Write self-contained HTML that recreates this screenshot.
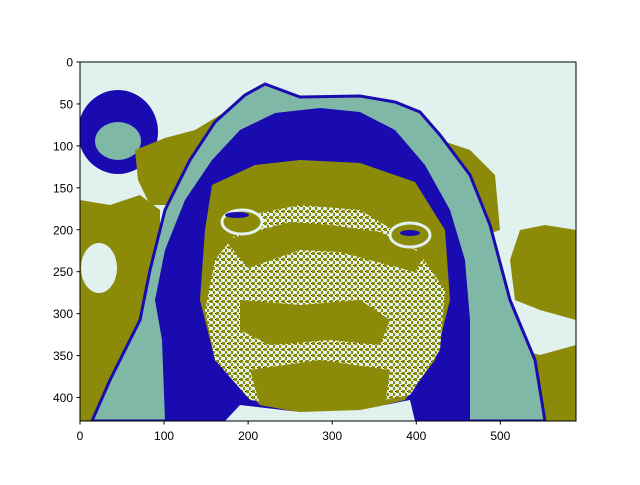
<!DOCTYPE html>
<html><head><meta charset="utf-8"><style>
body{margin:0;background:#fff;font-family:"Liberation Sans",sans-serif}
svg text{font-family:"Liberation Sans",sans-serif;font-size:12px;fill:#000}
</style></head><body>
<svg width="640" height="480" viewBox="0 0 640 480">
<defs>
<pattern id="speck" width="6" height="6" patternUnits="userSpaceOnUse">
<rect width="6" height="6" fill="#e0f0ee"/>
<rect x="0" y="0" width="3" height="3" fill="#8c8b09"/>
<rect x="3" y="3" width="2" height="3" fill="#8c8b09"/>
<rect x="5" y="1" width="1" height="1" fill="#1a0bb0"/>
</pattern>
<clipPath id="ax"><rect x="80" y="62" width="496" height="359"/></clipPath>
</defs>
<g clip-path="url(#ax)">
<rect x="80" y="62" width="496" height="359" fill="#e1f1ee"/>
<path fill="#8c8b09" d="M80,200 L110,205 L140,195 L160,210 L160,300 L130,380 L110,421 L80,421Z"/>
<ellipse cx="99" cy="268" rx="18" ry="25" fill="#e1f1ee"/>
<ellipse cx="118" cy="132" rx="40" ry="42" fill="#1a0bb0"/>
<ellipse cx="118" cy="141" rx="23" ry="19" fill="#80b8a8"/>
<path fill="#8c8b09" d="M135,150 L165,138 L195,130 L225,112 L235,130 L200,165 L185,205 L150,205 L138,180Z"/>
<path fill="#8c8b09" d="M440,140 L470,150 L495,175 L500,230 L470,240 L450,200Z"/>
<path fill="#8c8b09" d="M520,230 L545,225 L576,230 L576,320 L540,310 L515,300 L510,260Z"/>
<path fill="#8c8b09" d="M500,345 L540,355 L576,345 L576,421 L500,421Z"/>
<path fill="#80b8a8" stroke="#1a0bb0" stroke-width="3" d="M92,421 L110,380 L140,320 L150,270 L165,210 L190,160 L215,122 L245,95 L265,84 L300,97 L360,96 L395,102 L420,112 L440,135 L470,175 L490,225 L510,300 L535,360 L545,421Z"/>
<path fill="#1a0bb0" d="M165,421 L162,340 L155,300 L165,250 L185,200 L212,160 L240,130 L275,113 L320,108 L360,112 L395,130 L425,165 L450,210 L465,260 L470,320 L470,421Z"/>
<path fill="#8c8b09" d="M212,185 L255,165 L300,160 L360,163 L415,182 L445,230 L450,300 L435,360 L405,400 L330,418 L260,405 L215,360 L200,300 L205,230Z"/>
<path fill="url(#speck)" d="M215,260 L250,215 L300,205 L360,210 L410,240 L445,290 L440,350 L410,395 L330,410 L250,400 L215,360 L205,310Z"/>
<path fill="#8c8b09" d="M225,240 L290,222 L330,225 L380,232 L425,255 L415,272 L340,252 L300,250 L248,268Z"/>
<path fill="#8c8b09" d="M240,300 L300,305 L360,300 L390,320 L380,345 L330,340 L270,345 L240,330Z"/>
<path fill="#8c8b09" d="M250,370 L320,360 L390,370 L385,405 L320,415 L260,405Z"/>
<path fill="#e1f1ee" d="M225,421 L240,405 L300,412 L360,410 L410,400 L415,421Z"/>
<ellipse cx="242" cy="222" rx="20" ry="12" fill="#8c8b09" stroke="#e1f1ee" stroke-width="3"/>
<ellipse cx="237" cy="215" rx="12" ry="3" fill="#1a0bb0"/>
<ellipse cx="410" cy="235" rx="20" ry="12" fill="#8c8b09" stroke="#e1f1ee" stroke-width="3"/>
<ellipse cx="410" cy="233" rx="10" ry="3" fill="#1a0bb0"/>
</g>
<rect x="80" y="62" width="496" height="359" fill="none" stroke="#000" stroke-width="1"/>
<g id="xt"></g>
<g id="yt"></g>
<script>
const xTicks=[0,100,200,300,400,500];
const yTicks=[0,50,100,150,200,250,300,350,400];
const xs=v=>80+v*496/590, ys=v=>62+v*359/428;
const ns="http://www.w3.org/2000/svg";
const xg=document.getElementById('xt'), yg=document.getElementById('yt');
xTicks.forEach(v=>{
 const l=document.createElementNS(ns,'line');
 
 
 l.setAttribute('x1',xs(v));l.setAttribute('x2',xs(v));l.setAttribute('y1',421);l.setAttribute('y2',424.5);l.setAttribute('stroke','#000');
 xg.appendChild(l);
 const t=document.createElementNS(ns,'text');
 
 
 t.setAttribute('x',xs(v));t.setAttribute('y',440);t.setAttribute('text-anchor','middle');t.textContent=v;
 xg.appendChild(t);
});
yTicks.forEach(v=>{
 const l=document.createElementNS(ns,'line');
 
 
 l.setAttribute('x1',76.5);l.setAttribute('x2',80);l.setAttribute('y1',ys(v));l.setAttribute('y2',ys(v));l.setAttribute('stroke','#000');
 yg.appendChild(l);
 const t=document.createElementNS(ns,'text');
 
 
 t.setAttribute('x',73);t.setAttribute('y',ys(v)+4.5);t.setAttribute('text-anchor','end');t.textContent=v;
 yg.appendChild(t);
});
</script>
</svg>
</body></html>
